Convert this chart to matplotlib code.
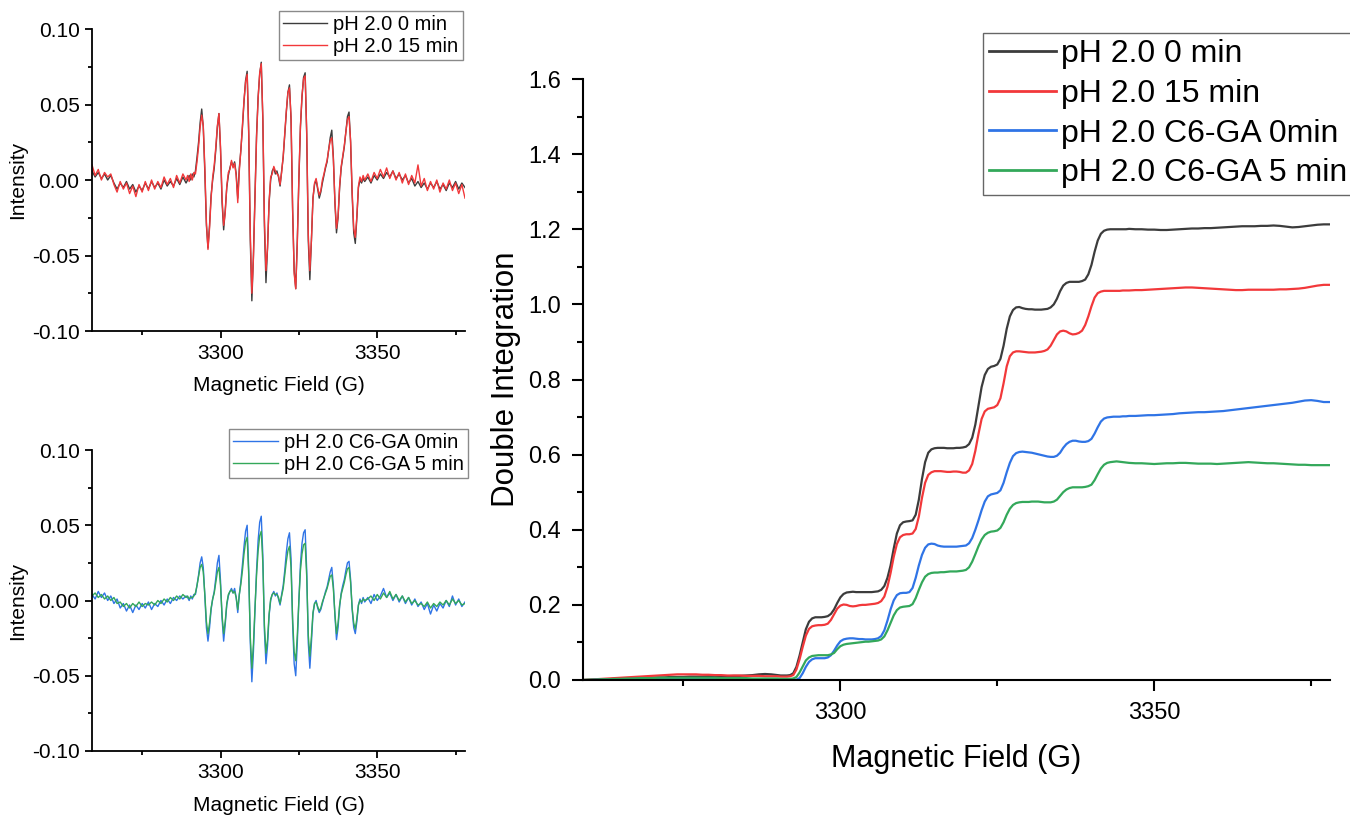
import numpy as np
import matplotlib.pyplot as plt
from matplotlib.ticker import MultipleLocator, FormatStrFormatter

plt.rcParams['font.family'] = ['Liberation Sans', 'DejaVu Sans']
plt.rcParams['axes.unicode_minus'] = False

# magnetic field sampling (G): 1 G on the baselines, 0.5 G across the hyperfine lines
field = np.concatenate([np.arange(3259, 3290, 1.0),
                        np.arange(3289.5, 3346.5, 0.5),
                        np.arange(3347, 3379, 1.0)])

# ---- EPR spectra (first derivative) ----
spec_ph2_0min = [
    # 3259 - 3289
    0.006, 0.002, 0.005, 0.001, 0.004, 0.000, 0.003, -0.002, -0.006, -0.002,
    -0.005, -0.001, -0.006, -0.003, -0.008, -0.004, -0.007, -0.002, -0.006, -0.001,
    -0.005, -0.002, -0.006, 0.000, -0.004, -0.001, -0.004, 0.001, -0.003, 0.002,
    -0.002,
    # 3289.5 - 3346
    0.000, 0.003, 0.000, 0.004, 0.002, 0.006, 0.015, 0.025, 0.038, 0.047,
    0.035, 0.005, -0.030, -0.045, -0.030, -0.010, 0.000, 0.008, 0.020, 0.035,
    0.044, 0.020, -0.015, -0.033, -0.020, -0.005, 0.003, 0.008, 0.012, 0.009,
    0.012, 0.004, -0.012, 0.008, 0.020, 0.035, 0.052, 0.066, 0.072, 0.030,
    -0.040, -0.080, -0.050, -0.010, 0.030, 0.055, 0.070, 0.078, 0.040, -0.030,
    -0.068, -0.045, -0.015, 0.000, 0.006, 0.008, 0.004, 0.006, 0.002, -0.004,
    0.006, 0.015, 0.030, 0.045, 0.058, 0.063, 0.040, -0.020, -0.060, -0.072,
    -0.040, 0.000, 0.035, 0.055, 0.068, 0.071, 0.030, -0.040, -0.066, -0.040,
    -0.012, -0.003, 0.000, -0.006, -0.012, -0.008, -0.002, 0.003, 0.008, 0.012,
    0.020, 0.028, 0.033, 0.015, -0.015, -0.035, -0.025, -0.005, 0.008, 0.015,
    0.022, 0.032, 0.042, 0.045, 0.025, -0.010, -0.035, -0.042, -0.025, -0.005,
    0.000, -0.002, 0.001, -0.001,
    # 3347 - 3378
    0.002, -0.002, 0.003, 0.000, 0.004, 0.001, 0.005, 0.002, 0.006, 0.001,
    0.004, 0.000, 0.003, -0.002, 0.001, -0.004, -0.001, -0.005, -0.002, -0.006,
    -0.002, -0.005, -0.001, -0.006, -0.003, -0.007, -0.002, -0.005, -0.001, -0.006,
    -0.002, -0.005,
]

spec_ph2_15min = [
    0.010, 0.003, 0.007, 0.000, 0.005, 0.002, 0.004, -0.003, -0.008, -0.001,
    -0.006, -0.002, -0.009, -0.004, -0.011, -0.003, -0.008, -0.001, -0.007, 0.000,
    -0.006, -0.001, -0.005, 0.002, -0.003, 0.001, -0.005, 0.003, -0.002, 0.004,
    0.000,
    0.003, -0.001, 0.004, 0.000, 0.005, 0.004, 0.012, 0.022, 0.035, 0.043,
    0.036, 0.008, -0.028, -0.046, -0.032, -0.012, 0.002, 0.010, 0.022, 0.036,
    0.044, 0.022, -0.012, -0.030, -0.022, -0.004, 0.005, 0.007, 0.013, 0.008,
    0.011, 0.003, -0.015, 0.006, 0.020, 0.036, 0.053, 0.065, 0.070, 0.032,
    -0.035, -0.075, -0.052, -0.012, 0.028, 0.054, 0.071, 0.077, 0.042, -0.025,
    -0.060, -0.045, -0.014, 0.002, 0.004, 0.009, 0.006, 0.004, 0.003, -0.003,
    0.005, 0.016, 0.031, 0.046, 0.058, 0.061, 0.042, -0.018, -0.062, -0.072,
    -0.042, 0.002, 0.036, 0.056, 0.067, 0.069, 0.032, -0.036, -0.060, -0.040,
    -0.012, -0.002, 0.001, -0.005, -0.010, -0.007, 0.000, 0.004, 0.009, 0.013,
    0.020, 0.026, 0.028, 0.014, -0.014, -0.032, -0.024, -0.004, 0.009, 0.016,
    0.023, 0.032, 0.040, 0.042, 0.026, -0.008, -0.032, -0.038, -0.024, -0.004,
    0.002, -0.001, 0.003, 0.000,
    0.004, -0.001, 0.005, 0.001, 0.007, 0.002, 0.008, 0.001, 0.006, 0.000,
    0.005, -0.002, 0.004, -0.003, 0.003, -0.002, 0.010, -0.004, 0.001, -0.007,
    -0.001, -0.006, 0.000, -0.008, -0.002, -0.006, 0.000, -0.007, -0.002, -0.009,
    -0.003, -0.012,
]

spec_c6ga_0min = [
    0.004, 0.001, 0.006, 0.002, 0.005, 0.000, 0.003, -0.002, 0.001, -0.005,
    -0.002, -0.007, -0.003, -0.008, -0.003, -0.006, -0.002, -0.005, -0.001, -0.006,
    -0.002, -0.004, 0.000, -0.003, 0.001, -0.002, 0.002, 0.000, 0.003, 0.001,
    0.003,
    0.002, 0.000, 0.003, 0.001, 0.004, 0.004, 0.010, 0.017, 0.025, 0.029,
    0.022, 0.003, -0.018, -0.027, -0.018, -0.006, 0.001, 0.006, 0.015, 0.025,
    0.030, 0.013, -0.012, -0.027, -0.016, -0.003, 0.003, 0.006, 0.008, 0.005,
    0.008, 0.002, -0.008, 0.004, 0.013, 0.024, 0.036, 0.046, 0.050, 0.020,
    -0.028, -0.054, -0.034, -0.006, 0.020, 0.040, 0.052, 0.056, 0.030, -0.020,
    -0.042, -0.030, -0.010, 0.000, 0.004, 0.006, 0.003, 0.005, 0.001, -0.003,
    0.004, 0.010, 0.020, 0.032, 0.041, 0.045, 0.028, -0.015, -0.042, -0.050,
    -0.028, 0.000, 0.024, 0.038, 0.045, 0.047, 0.020, -0.028, -0.045, -0.028,
    -0.009, -0.002, 0.000, -0.005, -0.008, -0.006, -0.002, 0.002, 0.006, 0.009,
    0.014, 0.019, 0.022, 0.010, -0.010, -0.026, -0.018, -0.004, 0.005, 0.010,
    0.014, 0.020, 0.025, 0.026, 0.014, -0.006, -0.018, -0.022, -0.014, -0.003,
    0.001, -0.002, 0.002, -0.001,
    0.002, -0.002, 0.004, 0.000, 0.003, 0.008, 0.002, 0.005, 0.000, 0.004,
    -0.001, 0.003, -0.002, 0.002, -0.003, 0.001, -0.004, -0.001, -0.006, -0.002,
    -0.009, -0.003, -0.007, -0.002, -0.005, 0.000, -0.004, 0.003, -0.003, 0.001,
    -0.004, -0.001,
]

spec_c6ga_5min = [
    0.003, 0.005, 0.002, 0.004, 0.001, 0.003, 0.000, 0.002, -0.002, -0.001,
    -0.004, -0.002, -0.005, -0.002, -0.004, -0.001, -0.004, -0.002, -0.003, -0.001,
    -0.003, 0.000, -0.002, 0.001, -0.001, 0.002, 0.000, 0.003, 0.001, 0.004,
    0.002,
    0.003, 0.001, 0.002, 0.002, 0.003, 0.005, 0.010, 0.016, 0.022, 0.024,
    0.019, 0.004, -0.014, -0.022, -0.015, -0.005, 0.001, 0.005, 0.012, 0.019,
    0.022, 0.010, -0.010, -0.022, -0.014, -0.002, 0.004, 0.006, 0.007, 0.005,
    0.006, 0.002, -0.006, 0.004, 0.011, 0.020, 0.031, 0.039, 0.042, 0.017,
    -0.024, -0.045, -0.029, -0.005, 0.017, 0.033, 0.043, 0.046, 0.025, -0.016,
    -0.035, -0.026, -0.009, 0.001, 0.004, 0.005, 0.004, 0.004, 0.002, -0.002,
    0.003, 0.008, 0.017, 0.026, 0.033, 0.036, 0.022, -0.012, -0.034, -0.040,
    -0.023, 0.000, 0.020, 0.031, 0.037, 0.038, 0.016, -0.023, -0.037, -0.024,
    -0.008, -0.002, -0.001, -0.004, -0.007, -0.005, -0.001, 0.002, 0.005, 0.008,
    0.012, 0.016, 0.017, 0.008, -0.009, -0.022, -0.015, -0.003, 0.004, 0.008,
    0.012, 0.017, 0.021, 0.022, 0.012, -0.005, -0.015, -0.019, -0.012, -0.003,
    0.000, -0.001, 0.001, 0.000,
    0.001, 0.003, 0.000, 0.004, 0.001, 0.005, 0.002, 0.006, 0.001, 0.004,
    0.000, 0.003, -0.001, 0.002, -0.002, 0.000, -0.003, -0.002, -0.004, -0.001,
    -0.005, -0.002, -0.004, -0.001, -0.003, 0.000, -0.003, 0.001, -0.002, 0.000,
    -0.003, -0.002,
]

# ---- double integration ----
di_ph2_0min = [
    0.000, 0.000, 0.001, 0.001, 0.002, 0.003, 0.003, 0.004, 0.005, 0.005,
    0.006, 0.006, 0.007, 0.007, 0.008, 0.008, 0.008, 0.009, 0.009, 0.009,
    0.010, 0.010, 0.010, 0.010, 0.011, 0.011, 0.012, 0.013, 0.015, 0.016,
    0.015,
    0.014, 0.013, 0.012, 0.012, 0.012, 0.013, 0.018, 0.035, 0.065, 0.100,
    0.135, 0.155, 0.164, 0.167, 0.167, 0.167, 0.168, 0.170, 0.176, 0.188,
    0.205, 0.220, 0.229, 0.233, 0.234, 0.235, 0.234, 0.234, 0.234, 0.234,
    0.234, 0.234, 0.235, 0.236, 0.240, 0.250, 0.272, 0.305, 0.350, 0.390,
    0.412, 0.420, 0.422, 0.423, 0.425, 0.440, 0.480, 0.535, 0.580, 0.605,
    0.614, 0.617, 0.618, 0.618, 0.618, 0.617, 0.617, 0.617, 0.618, 0.618,
    0.619, 0.621, 0.628, 0.645, 0.680, 0.730, 0.780, 0.812, 0.828, 0.834,
    0.836, 0.840, 0.855, 0.890, 0.935, 0.968, 0.985, 0.992, 0.993, 0.990,
    0.988, 0.987, 0.987, 0.986, 0.986, 0.986, 0.987, 0.988, 0.992, 1.000,
    1.015, 1.035, 1.050, 1.057, 1.060, 1.060, 1.060, 1.060, 1.062, 1.066,
    1.080, 1.105, 1.140, 1.170, 1.188, 1.196, 1.199, 1.200, 1.200, 1.200,
    1.200, 1.200, 1.200, 1.201,
    1.200, 1.200, 1.199, 1.199, 1.198, 1.198, 1.199, 1.200, 1.201, 1.202,
    1.202, 1.203, 1.203, 1.204, 1.205, 1.206, 1.207, 1.208, 1.208, 1.208,
    1.209, 1.209, 1.210, 1.209, 1.207, 1.205, 1.206, 1.208, 1.210, 1.212,
    1.213, 1.213,
]

di_ph2_15min = [
    0.000, 0.001, 0.002, 0.003, 0.004, 0.005, 0.006, 0.007, 0.008, 0.009,
    0.010, 0.011, 0.012, 0.013, 0.014, 0.015, 0.015, 0.015, 0.015, 0.014,
    0.014, 0.013, 0.013, 0.012, 0.012, 0.012, 0.011, 0.011, 0.011, 0.010,
    0.010,
    0.010, 0.010, 0.009, 0.009, 0.009, 0.010, 0.013, 0.028, 0.055, 0.088,
    0.118, 0.136, 0.143, 0.145, 0.146, 0.146, 0.147, 0.150, 0.160, 0.175,
    0.190, 0.198, 0.201, 0.200, 0.197, 0.196, 0.197, 0.199, 0.200, 0.200,
    0.201, 0.202, 0.203, 0.205, 0.210, 0.222, 0.248, 0.285, 0.328, 0.362,
    0.380, 0.386, 0.388, 0.388, 0.390, 0.402, 0.435, 0.485, 0.525, 0.546,
    0.553, 0.556, 0.556, 0.556, 0.555, 0.554, 0.554, 0.555, 0.555, 0.554,
    0.552, 0.552, 0.558, 0.575, 0.610, 0.655, 0.695, 0.715, 0.722, 0.724,
    0.726, 0.732, 0.750, 0.790, 0.835, 0.862, 0.872, 0.875, 0.875, 0.874,
    0.873, 0.872, 0.872, 0.872, 0.873, 0.874, 0.876, 0.880, 0.890, 0.905,
    0.920, 0.928, 0.930, 0.928, 0.923, 0.920, 0.921, 0.924, 0.930, 0.945,
    0.968, 0.995, 1.018, 1.030, 1.034, 1.036, 1.036, 1.036, 1.036, 1.036,
    1.036, 1.037, 1.037, 1.037,
    1.038, 1.038, 1.039, 1.040, 1.041, 1.042, 1.043, 1.044, 1.045, 1.045,
    1.044, 1.043, 1.042, 1.041, 1.040, 1.039, 1.038, 1.038, 1.039, 1.039,
    1.039, 1.039, 1.039, 1.040, 1.040, 1.041, 1.042, 1.044, 1.047, 1.050,
    1.052, 1.052,
]

di_c6ga_0min = [
    0.000, 0.000, 0.001, 0.001, 0.001, 0.002, 0.002, 0.002, 0.003, 0.003,
    0.003, 0.003, 0.004, 0.004, 0.004, 0.004, 0.004, 0.004, 0.003, 0.003,
    0.003, 0.003, 0.002, 0.002, 0.002, 0.002, 0.002, 0.001, 0.001, 0.001,
    0.001,
    0.001, 0.001, 0.000, 0.000, 0.000, 0.000, 0.000, 0.001, 0.005, 0.018,
    0.035, 0.048, 0.055, 0.058, 0.058, 0.058, 0.058, 0.060, 0.066, 0.078,
    0.092, 0.103, 0.108, 0.110, 0.111, 0.111, 0.110, 0.109, 0.109, 0.108,
    0.108, 0.108, 0.109, 0.111, 0.117, 0.132, 0.158, 0.188, 0.212, 0.226,
    0.231, 0.232, 0.232, 0.234, 0.245, 0.272, 0.305, 0.333, 0.352, 0.361,
    0.363, 0.362, 0.358, 0.356, 0.355, 0.355, 0.355, 0.355, 0.355, 0.356,
    0.357, 0.358, 0.364, 0.378, 0.400, 0.425, 0.452, 0.475, 0.489, 0.494,
    0.496, 0.498, 0.505, 0.525, 0.553, 0.578, 0.596, 0.604, 0.607, 0.608,
    0.607, 0.606, 0.605, 0.603, 0.601, 0.599, 0.597, 0.595, 0.594, 0.594,
    0.597, 0.605, 0.618, 0.628, 0.634, 0.637, 0.637, 0.635, 0.634, 0.634,
    0.636, 0.642, 0.656, 0.673, 0.688, 0.696, 0.699, 0.700, 0.701, 0.701,
    0.701, 0.702, 0.702, 0.703,
    0.703, 0.704, 0.705, 0.705, 0.706, 0.707, 0.708, 0.710, 0.711, 0.712,
    0.713, 0.713, 0.714, 0.715, 0.716, 0.718, 0.720, 0.722, 0.724, 0.726,
    0.728, 0.730, 0.732, 0.734, 0.736, 0.738, 0.741, 0.744, 0.745, 0.743,
    0.740, 0.740,
]

di_c6ga_5min = [
    0.000, 0.001, 0.001, 0.002, 0.002, 0.003, 0.003, 0.004, 0.004, 0.005,
    0.005, 0.005, 0.006, 0.006, 0.006, 0.006, 0.006, 0.006, 0.006, 0.006,
    0.006, 0.006, 0.005, 0.005, 0.005, 0.005, 0.005, 0.004, 0.004, 0.004,
    0.004,
    0.004, 0.004, 0.003, 0.003, 0.003, 0.003, 0.004, 0.008, 0.020, 0.036,
    0.052, 0.060, 0.064, 0.065, 0.066, 0.066, 0.066, 0.066, 0.068, 0.072,
    0.082, 0.090, 0.094, 0.096, 0.097, 0.098, 0.099, 0.100, 0.101, 0.102,
    0.102, 0.103, 0.104, 0.105, 0.108, 0.116, 0.132, 0.152, 0.172, 0.186,
    0.193, 0.195, 0.196, 0.197, 0.202, 0.218, 0.240, 0.260, 0.275, 0.282,
    0.285, 0.286, 0.286, 0.287, 0.287, 0.288, 0.289, 0.289, 0.289, 0.290,
    0.291, 0.293, 0.300, 0.315, 0.335, 0.356, 0.374, 0.386, 0.392, 0.395,
    0.396, 0.398, 0.405, 0.420, 0.440, 0.456, 0.466, 0.471, 0.473, 0.474,
    0.474, 0.474, 0.475, 0.475, 0.475, 0.474, 0.473, 0.473, 0.473, 0.475,
    0.480, 0.490, 0.500, 0.507, 0.511, 0.513, 0.513, 0.513, 0.513, 0.514,
    0.516, 0.520, 0.532, 0.548, 0.563, 0.573, 0.578, 0.580, 0.581, 0.582,
    0.581, 0.580, 0.579, 0.578,
    0.577, 0.577, 0.576, 0.575, 0.576, 0.577, 0.577, 0.578, 0.578, 0.577,
    0.576, 0.576, 0.576, 0.575, 0.576, 0.577, 0.578, 0.579, 0.580, 0.579,
    0.578, 0.577, 0.577, 0.576, 0.575, 0.574, 0.573, 0.573, 0.572, 0.572,
    0.572, 0.572,
]

names = ['pH 2.0 0 min', 'pH 2.0 15 min', 'pH 2.0 C6-GA 0min', 'pH 2.0 C6-GA 5 min']
colors = ['#3c3c3c', '#f2383a', '#2f74e6', '#33a85a']

spectra = [spec_ph2_0min, spec_ph2_15min, spec_c6ga_0min, spec_c6ga_5min]
integrals = [di_ph2_0min, di_ph2_15min, di_c6ga_0min, di_c6ga_5min]
for s in spectra + integrals:
    assert len(s) == len(field), len(s)


def style_axes(ax, fs, lw, major, minor, pad):
    ax.spines['top'].set_visible(False)
    ax.spines['right'].set_visible(False)
    ax.spines['left'].set_linewidth(lw)
    ax.spines['bottom'].set_linewidth(lw)
    ax.tick_params(which='major', direction='out', length=major, width=lw,
                   labelsize=fs, pad=pad)
    ax.tick_params(which='minor', direction='out', length=minor, width=lw)
    ax.set_xlim(3259, 3378)
    ax.xaxis.set_major_locator(MultipleLocator(50))
    ax.xaxis.set_minor_locator(MultipleLocator(25))


fig = plt.figure(figsize=(13.5, 8.17), dpi=100)
W, H = 1350, 817
ax1 = fig.add_axes([92 / W, 1 - 331 / H, 373 / W, 302 / H])
ax2 = fig.add_axes([92 / W, 1 - 751 / H, 373 / W, 301 / H])
ax3 = fig.add_axes([583 / W, 1 - 680 / H, 747 / W, 601 / H])

# small spectra panels
for ax, idx, top, right in [(ax1, (0, 1), 11, 463), (ax2, (2, 3), 429, 468)]:
    for i in idx:
        ax.plot(field, spectra[i], color=colors[i], lw=1.0, label=names[i])
    style_axes(ax, 15, 1.3, 5, 3, 4)
    ax.set_ylim(-0.10, 0.10)
    ax.yaxis.set_major_locator(MultipleLocator(0.05))
    ax.yaxis.set_minor_locator(MultipleLocator(0.025))
    ax.yaxis.set_major_formatter(FormatStrFormatter('%.2f'))
    ax.set_xlabel('Magnetic Field (G)', fontsize=15, labelpad=10)
    ax.set_ylabel('Intensity', fontsize=15, labelpad=3)
    leg = ax.legend(loc='upper right', bbox_to_anchor=(right / W, 1 - top / H),
                    bbox_transform=fig.transFigure, borderaxespad=0,
                    fancybox=False, edgecolor='#8a8a8a', framealpha=1,
                    fontsize=14.5, handlelength=2.2, labelspacing=0.12,
                    borderpad=0.22, handletextpad=0.3)
    leg.get_frame().set_linewidth(1.0)

# double integration panel
for i in range(4):
    ax3.plot(field, integrals[i], color=colors[i], lw=1.6, label=names[i])
style_axes(ax3, 17, 1.5, 8, 4, 8)
ax3.set_ylim(0, 1.6)
ax3.yaxis.set_major_locator(MultipleLocator(0.2))
ax3.yaxis.set_minor_locator(MultipleLocator(0.1))
ax3.yaxis.set_major_formatter(FormatStrFormatter('%.1f'))
ax3.set_xlabel('Magnetic Field (G)', fontsize=22, labelpad=14)
ax3.set_ylabel('Double Integration', fontsize=22.5, labelpad=5)
leg = ax3.legend(loc='upper left', bbox_to_anchor=(983 / W, 1 - 33 / H),
                 bbox_transform=fig.transFigure, borderaxespad=0,
                 fancybox=False, edgecolor='#666666', framealpha=1,
                 fontsize=23, handlelength=2.1, labelspacing=0.3,
                 borderpad=0.2, handletextpad=0.15)
leg.get_frame().set_linewidth(1.0)
for line in leg.get_lines():
    line.set_linewidth(2.0)

fig.savefig('out.png', dpi=100)
